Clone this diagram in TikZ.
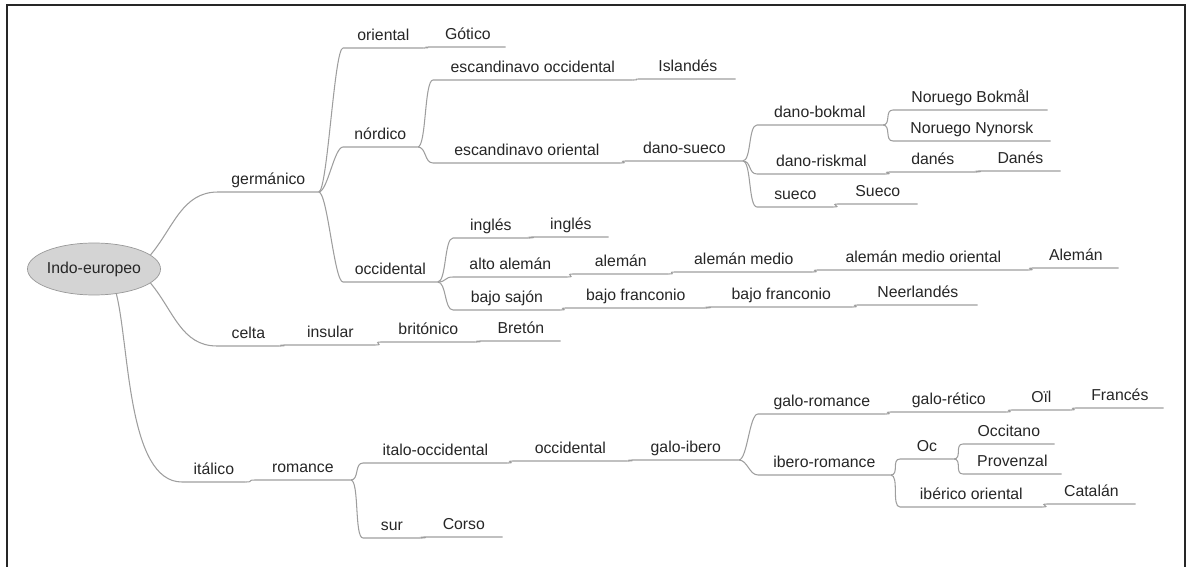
\documentclass[tikz,border=0pt]{standalone}
\usepackage{fontspec}
\setmainfont{Liberation Sans}
\usetikzlibrary{shapes.geometric}

\begin{document}
\begin{tikzpicture}[x=0.02cm, y=-0.02cm,
	topic/.style={anchor=south west, inner xsep=0pt, inner ysep=4.2pt, text depth=0pt,
		font=\fontsize{9}{11}\selectfont, text=black!85},
	wd/.style={minimum width=#1*0.02cm},
	wire/.style={draw=black!38, line width=0.6pt},
	link/.style={to path={.. controls ([xshift=5pt]\tikztostart) and ([xshift=-5pt]\tikztotarget) .. (\tikztotarget)}}]
			\useasboundingbox (0,0) rectangle (1189,567);
			\draw[line width=1.3pt, black!85] (7,5) rectangle (1185,600);
			\node[ellipse, draw=black!40, fill=black!17, minimum width=2.54cm, minimum height=1.04cm,
				inner sep=0pt, font=\fontsize{9}{11}\selectfont, text=black!85] (root) at (94,269) {Indo-europeo};
			%%%%%%%%%%%%%%%%%%%%%%%%%%%%%%%%
			\node[topic, wd=100] (ger) at (218,192) {germánico};
			\node[topic, wd=80] (ori) at (343,48) {oriental};
			\node[topic, wd=75] (got) at (430,47) {Gótico};
			\node[topic, wd=74] (nor) at (343,147) {nórdico};
			\node[topic, wd=199] (esc-occ) at (433,80) {escandinavo occidental};
			\node[topic, wd=95] (isl) at (640,79) {Islandés};
			\node[topic, wd=187] (esc-or) at (433,163) {escandinavo oriental};
			\node[topic, wd=116] (dano) at (626,161) {dano-sueco};
			\node[topic, wd=125] (bokmal) at (757,125) {dano-bokmal};
			\node[topic, wd=154] (nor-bok) at (893,110) {Noruego Bokmål};
			\node[topic, wd=157] (nor-nyn) at (893,141) {Noruego Nynorsk};
			\node[topic, wd=128] (riskmal) at (757,174) {dano-riskmal};
			\node[topic, wd=85] (dan) at (890,172) {danés};
			\node[topic, wd=80] (danL) at (980,171) {Danés};
			\node[topic, wd=76] (sue) at (757,207) {sueco};
			\node[topic, wd=79] (sueL) at (838,204) {Sueco};
			\node[topic, wd=94] (occ) at (343,282) {occidental};
			\node[topic, wd=75] (ing) at (453,238) {inglés};
			\node[topic, wd=75] (ingL) at (533,237) {inglés};
			\node[topic, wd=114] (alto) at (453,277) {alto alemán};
			\node[topic, wd=95] (ale) at (573,274) {alemán};
			\node[topic, wd=137] (ale-m) at (675,272) {alemán medio};
			\node[topic, wd=210] (ale-mo) at (818,270) {alemán medio oriental};
			\node[topic, wd=85] (aleL) at (1033,268) {Alemán};
			\node[topic, wd=107] (bajo) at (453,310) {bajo sajón};
			\node[topic, wd=139] (franc) at (566,308) {bajo franconio};
			\node[topic, wd=142] (franc2) at (710,307) {bajo franconio};
			\node[topic, wd=119] (neer) at (858,305) {Neerlandés};
			%%%%%%%%%%%%%%%%%%%%%%%%%%%%%%%%
			\node[topic, wd=62] (cel) at (217,346) {celta};
			\node[topic, wd=90] (ins) at (285,345) {insular};
			\node[topic, wd=94] (brit) at (381,342) {britónico};
			\node[topic, wd=79] (bret) at (481,341) {Bretón};
			%%%%%%%%%%%%%%%%%%%%%%%%%%%%%%%%
			\node[topic, wd=63] (ita) at (182,482) {itálico};
			\node[topic, wd=95] (rom) at (255,480) {romance};
			\node[topic, wd=144] (it-occ) at (363,463) {italo-occidental};
			\node[topic, wd=114] (w-occ) at (513,461) {occidental};
			\node[topic, wd=105] (g-ib) at (633,460) {galo-ibero};
			\node[topic, wd=127] (g-rom) at (758,414) {galo-romance};
			\node[topic, wd=115] (g-ret) at (891,412) {galo-rético};
			\node[topic, wd=58] (oil) at (1012,410) {Oïl};
			\node[topic, wd=87] (fra) at (1076,408) {Francés};
			\node[topic, wd=132] (ib-rom) at (758,475) {ibero-romance};
			\node[topic, wd=53] (oc) at (900,459) {Oc};
			\node[topic, wd=91] (occit) at (963,444) {Occitano};
			\node[topic, wd=98] (prov) at (963,474) {Provenzal};
			\node[topic, wd=142] (ib-or) at (900,507) {ibérico oriental};
			\node[topic, wd=88] (cat) at (1047,504) {Catalán};
			\node[topic, wd=57] (sur) at (363,538) {sur};
			\node[topic, wd=77] (corso) at (425,537) {Corso};
			%%%%%%%%%%%%%%%%%%%%%%%%%%%%%%%%
			\draw[wire] (root.14) to[out=50,in=180] (ger.south west) -- (ger.south east);
			\draw[wire] (root.-14) to[out=-50,in=180] (cel.south west) -- (cel.south east);
			\draw[wire] (root.-48) to[out=-76,in=180,looseness=0.7] (ita.south west) -- (ita.south east);
			%%%%%%%%%%%%%%%%%%%%%%%%%%%%%%%%
			\draw[wire] (ger.south east) to[link] (ori.south west) -- (ori.south east);
			\draw[wire] (ori.south east) to[link] (got.south west) -- (got.south east);
			\draw[wire] (ger.south east) to[link] (nor.south west) -- (nor.south east);
			\draw[wire] (nor.south east) to[link] (esc-occ.south west) -- (esc-occ.south east);
			\draw[wire] (esc-occ.south east) to[link] (isl.south west) -- (isl.south east);
			\draw[wire] (nor.south east) to[link] (esc-or.south west) -- (esc-or.south east);
			\draw[wire] (esc-or.south east) to[link] (dano.south west) -- (dano.south east);
			\draw[wire] (dano.south east) to[link] (bokmal.south west) -- (bokmal.south east);
			\draw[wire] (bokmal.south east) to[link] (nor-bok.south west) -- (nor-bok.south east);
			\draw[wire] (bokmal.south east) to[link] (nor-nyn.south west) -- (nor-nyn.south east);
			\draw[wire] (dano.south east) to[link] (riskmal.south west) -- (riskmal.south east);
			\draw[wire] (riskmal.south east) to[link] (dan.south west) -- (dan.south east);
			\draw[wire] (dan.south east) to[link] (danL.south west) -- (danL.south east);
			\draw[wire] (dano.south east) to[link] (sue.south west) -- (sue.south east);
			\draw[wire] (sue.south east) to[link] (sueL.south west) -- (sueL.south east);
			\draw[wire] (ger.south east) to[link] (occ.south west) -- (occ.south east);
			\draw[wire] (occ.south east) to[link] (ing.south west) -- (ing.south east);
			\draw[wire] (ing.south east) to[link] (ingL.south west) -- (ingL.south east);
			\draw[wire] (occ.south east) to[link] (alto.south west) -- (alto.south east);
			\draw[wire] (alto.south east) to[link] (ale.south west) -- (ale.south east);
			\draw[wire] (ale.south east) to[link] (ale-m.south west) -- (ale-m.south east);
			\draw[wire] (ale-m.south east) to[link] (ale-mo.south west) -- (ale-mo.south east);
			\draw[wire] (ale-mo.south east) to[link] (aleL.south west) -- (aleL.south east);
			\draw[wire] (occ.south east) to[link] (bajo.south west) -- (bajo.south east);
			\draw[wire] (bajo.south east) to[link] (franc.south west) -- (franc.south east);
			\draw[wire] (franc.south east) to[link] (franc2.south west) -- (franc2.south east);
			\draw[wire] (franc2.south east) to[link] (neer.south west) -- (neer.south east);
			%%%%%%%%%%%%%%%%%%%%%%%%%%%%%%%%
			\draw[wire] (cel.south east) to[link] (ins.south west) -- (ins.south east);
			\draw[wire] (ins.south east) to[link] (brit.south west) -- (brit.south east);
			\draw[wire] (brit.south east) to[link] (bret.south west) -- (bret.south east);
			%%%%%%%%%%%%%%%%%%%%%%%%%%%%%%%%
			\draw[wire] (ita.south east) to[link] (rom.south west) -- (rom.south east);
			\draw[wire] (rom.south east) to[link] (it-occ.south west) -- (it-occ.south east);
			\draw[wire] (it-occ.south east) to[link] (w-occ.south west) -- (w-occ.south east);
			\draw[wire] (w-occ.south east) to[link] (g-ib.south west) -- (g-ib.south east);
			\draw[wire] (g-ib.south east) to[link] (g-rom.south west) -- (g-rom.south east);
			\draw[wire] (g-rom.south east) to[link] (g-ret.south west) -- (g-ret.south east);
			\draw[wire] (g-ret.south east) to[link] (oil.south west) -- (oil.south east);
			\draw[wire] (oil.south east) to[link] (fra.south west) -- (fra.south east);
			\draw[wire] (g-ib.south east) to[link] (ib-rom.south west) -- (ib-rom.south east);
			\draw[wire] (ib-rom.south east) to[link] (oc.south west) -- (oc.south east);
			\draw[wire] (oc.south east) to[link] (occit.south west) -- (occit.south east);
			\draw[wire] (oc.south east) to[link] (prov.south west) -- (prov.south east);
			\draw[wire] (ib-rom.south east) to[link] (ib-or.south west) -- (ib-or.south east);
			\draw[wire] (ib-or.south east) to[link] (cat.south west) -- (cat.south east);
			\draw[wire] (rom.south east) to[link] (sur.south west) -- (sur.south east);
			\draw[wire] (sur.south east) to[link] (corso.south west) -- (corso.south east);
		\end{tikzpicture}
\end{document}
